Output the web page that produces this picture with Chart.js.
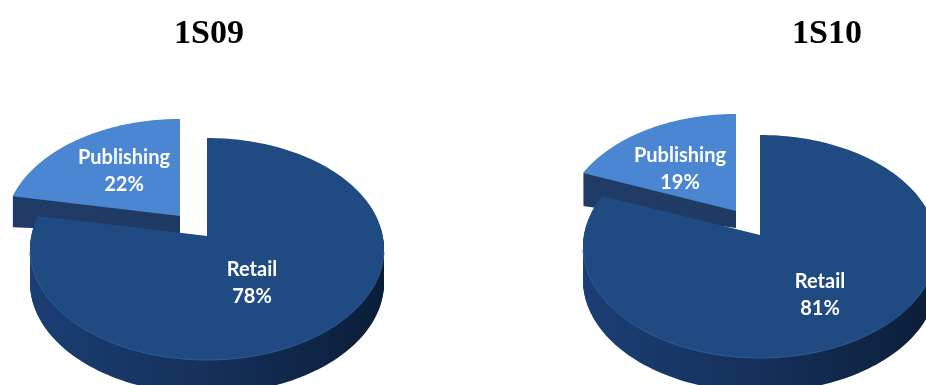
<!DOCTYPE html>
<html>
<head>
<meta charset="utf-8">
<title>1S09 / 1S10</title>
<style>
  html, body { margin: 0; padding: 0; background: #fff; overflow: hidden; }
  canvas { position: absolute; left: 0; top: 0; }
</style>
<script src="https://cdn.jsdelivr.net/npm/chart.js@4/dist/chart.umd.min.js"></script>
</head>
<body>
<canvas id="pie09" width="926" height="385"></canvas>
<canvas id="pie10" width="926" height="385"></canvas>
<script>
const categories = ['Retail', 'Publishing'];
const values1S09 = [78, 22];
const values1S10 = [81, 19];

const faceColors = ['#204a82', '#4a86d2'];
const wallStops = [
  ['#1b3e74', '#15305a', '#0b1e38'],
  ['#203c66', '#1f3a63', '#182e50']
];

// turns a slice angle into a point on the tilted disc: the near half comes
// out bigger than the far half, so the apex sits above the ellipse centre
function project(disc, angle) {
  const k = (disc.front - disc.back) / (disc.front + disc.back);
  const depthY = disc.front * (1 - k);
  const width = disc.half * Math.sqrt(1 - k * k);
  const u = Math.cos(angle);
  const v = Math.sin(angle);
  const w = 1 - k * v;
  return { x: width * u / w, y: depthY * v / w };
}

function slicePath(ctx, points, ax, ay, lift) {
  ctx.beginPath();
  ctx.moveTo(ax, ay + lift(ax));
  points.forEach(p => ctx.lineTo(p.x, p.y + lift(p.x)));
  ctx.closePath();
}

function drawPie(id, title, values, layout) {
  const pie3d = {
    id: 'pie3d',
    beforeDatasetDraw(chart, args) {
      const ctx = chart.ctx;
      const arcs = chart.getDatasetMeta(args.index).data;

      // back slice first, the big slice sits over its side wall
      for (let i = arcs.length - 1; i >= 0; i--) {
        const arc = arcs[i];
        const part = layout.slices[i];
        const ax = layout.apex.x + part.dx;
        const ay = layout.apex.y + part.dy;
        const points = [];
        for (let s = 0; s <= 180; s++) {
          const a = arc.startAngle + (arc.endAngle - arc.startAngle) * s / 180;
          const p = project(layout.disc, a);
          points.push({ x: ax + p.x * part.scale, y: ay + p.y * part.scale });
        }

        const span = Math.max(...points.map(p => ax - p.x), 1);
        const depth = x => part.near + (part.far - part.near) * Math.max(ax - x, 0) / span;

        const left = ax - layout.disc.half;
        const grad = ctx.createLinearGradient(left, 0, left + layout.disc.half * 2, 0);
        wallStops[i].forEach((c, n) => grad.addColorStop(n / 2, c));
        ctx.fillStyle = grad;
        for (let d = part.far; d > 0; d--) {
          slicePath(ctx, points, ax, ay, x => depth(x) * d / part.far);
          ctx.fill();
        }

        slicePath(ctx, points, ax, ay, () => 0);
        ctx.fillStyle = arc.options.backgroundColor;
        ctx.fill();

        // thin highlight along the near rim
        ctx.beginPath();
        points.filter(p => p.y > ay + 14).forEach((p, n) => {
          if (n === 0) ctx.moveTo(p.x, p.y);
          else ctx.lineTo(p.x, p.y);
        });
        ctx.strokeStyle = '#2f5c98';
        ctx.lineWidth = 1;
        ctx.stroke();

        ctx.fillStyle = '#fff';
        ctx.font = 'bold 20px Lato';
        ctx.textAlign = 'center';
        ctx.textBaseline = 'middle';
        ctx.fillText(categories[i], part.label.x, part.label.y);
        ctx.fillText(values[i] + '%', part.label.x, part.label.y + 27);
      }

      ctx.fillStyle = '#000';
      ctx.font = 'bold 34px "Liberation Serif"';
      ctx.textAlign = 'center';
      ctx.textBaseline = 'alphabetic';
      ctx.fillText(title, layout.titleX, 43);
      return false;
    }
  };

  new Chart(document.getElementById(id), {
    type: 'pie',
    data: {
      labels: categories,
      datasets: [{ data: values, backgroundColor: faceColors, borderWidth: 0 }]
    },
    options: {
      responsive: false,
      animation: false,
      events: [],
      plugins: { legend: { display: false }, tooltip: { enabled: false } }
    },
    plugins: [pie3d]
  });
}

drawPie('pie09', '1S09', values1S09, {
  titleX: 209,
  apex: { x: 207, y: 236 },
  disc: { half: 177, front: 124, back: 98 },
  slices: [
    { dx: 0, dy: 0, scale: 1, near: 34, far: 34, label: { x: 252, y: 270 } },
    { dx: -27, dy: -20, scale: 0.99, near: 18, far: 31, label: { x: 124, y: 158 } }
  ]
});

drawPie('pie10', '1S10', values1S10, {
  titleX: 827,
  apex: { x: 760, y: 235 },
  disc: { half: 177, front: 123, back: 100 },
  slices: [
    { dx: 0, dy: 0, scale: 1, near: 34, far: 34, label: { x: 820, y: 282 } },
    { dx: -24, dy: -24, scale: 0.97, near: 17, far: 33, label: { x: 680, y: 156 } }
  ]
});
</script>
</body>
</html>
